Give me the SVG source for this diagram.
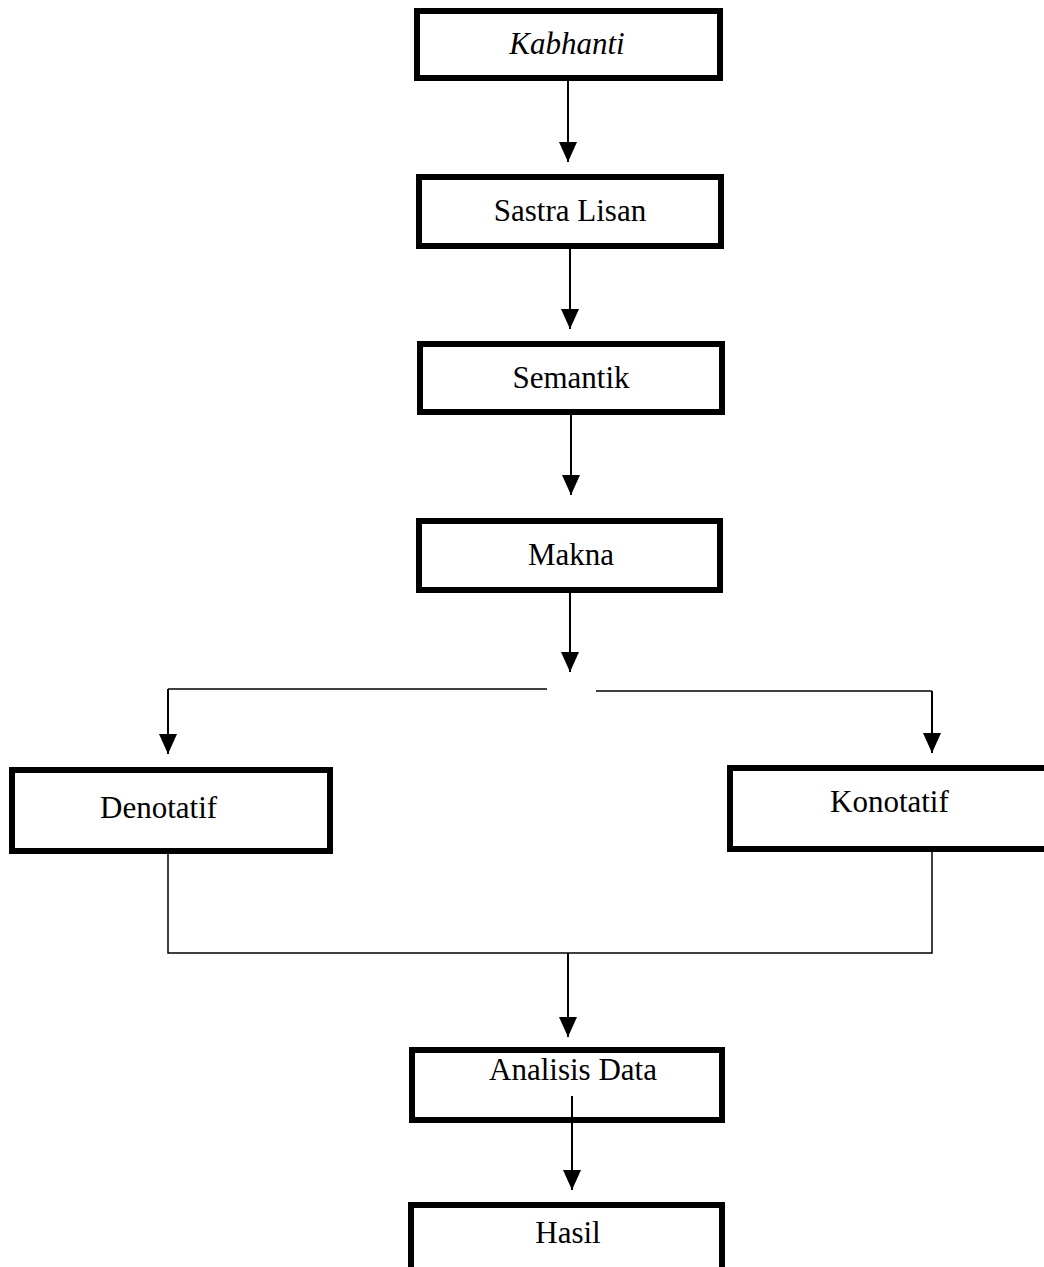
<svg xmlns="http://www.w3.org/2000/svg" width="1044" height="1267" viewBox="0 0 1044 1267">
  <style>
    .box { fill: #ffffff; stroke: #000000; stroke-width: 6; }
    .lbl { font-family: "Liberation Serif", "Times New Roman", serif; font-size: 31px; fill: #000000; }
    .mid { text-anchor: middle; }
    .ln { fill: none; stroke: #000000; stroke-width: 2; }
    .thin { fill: none; stroke: #000000; stroke-width: 1.5; }
  </style>
  <defs>
    <marker id="arr" markerUnits="userSpaceOnUse" viewBox="0 0 20 18" refX="20" refY="9" markerWidth="20" markerHeight="18" orient="auto">
      <path d="M0,0 L20,9 L0,18 z" fill="#000000"/>
    </marker>
  </defs>
  <rect width="1044" height="1267" fill="#ffffff"/>

  <g id="node-kabhanti">
    <rect class="box" x="417" y="11" width="303" height="67"/>
    <text class="lbl mid" x="567" y="54" font-style="italic">Kabhanti</text>
  </g>
  <g id="node-sastra-lisan">
    <rect class="box" x="419" y="177" width="302" height="69"/>
    <text class="lbl mid" x="570" y="221">Sastra Lisan</text>
  </g>
  <g id="node-semantik">
    <rect class="box" x="420" y="344" width="302" height="68"/>
    <text class="lbl mid" x="571" y="388">Semantik</text>
  </g>
  <g id="node-makna">
    <rect class="box" x="419" y="521" width="301" height="69"/>
    <text class="lbl mid" x="571" y="565">Makna</text>
  </g>
  <g id="node-denotatif">
    <rect class="box" x="12" y="770" width="318" height="81"/>
    <text class="lbl" x="100" y="818">Denotatif</text>
  </g>
  <g id="node-konotatif">
    <rect class="box" x="730" y="768" width="330" height="81"/>
    <text class="lbl" x="830" y="812">Konotatif</text>
  </g>
  <g id="node-analisis-data">
    <rect class="box" x="412" y="1050" width="310" height="70"/>
    <text class="lbl mid" x="573" y="1080">Analisis Data</text>
  </g>
  <g id="node-hasil">
    <rect class="box" x="411" y="1205" width="311" height="80"/>
    <text class="lbl mid" x="568" y="1243">Hasil</text>
  </g>

  <g id="connectors">
    <line class="ln" x1="568" y1="81" x2="568" y2="162" marker-end="url(#arr)"/>
    <line class="ln" x1="570" y1="249" x2="570" y2="329" marker-end="url(#arr)"/>
    <line class="ln" x1="571" y1="415" x2="571" y2="495" marker-end="url(#arr)"/>
    <line class="ln" x1="570" y1="593" x2="570" y2="672" marker-end="url(#arr)"/>
    <polyline class="thin" points="547,689 168,689"/>
    <line class="ln" x1="168" y1="689" x2="168" y2="754" marker-end="url(#arr)"/>
    <polyline class="thin" points="596,691 932,691"/>
    <line class="ln" x1="932" y1="691" x2="932" y2="753" marker-end="url(#arr)"/>
    <polyline class="thin" points="168,854 168,953 932,953 932,852"/>
    <line class="ln" x1="568" y1="953" x2="568" y2="1037" marker-end="url(#arr)"/>
    <line class="ln" x1="572" y1="1096" x2="572" y2="1190" marker-end="url(#arr)"/>
  </g>
</svg>
